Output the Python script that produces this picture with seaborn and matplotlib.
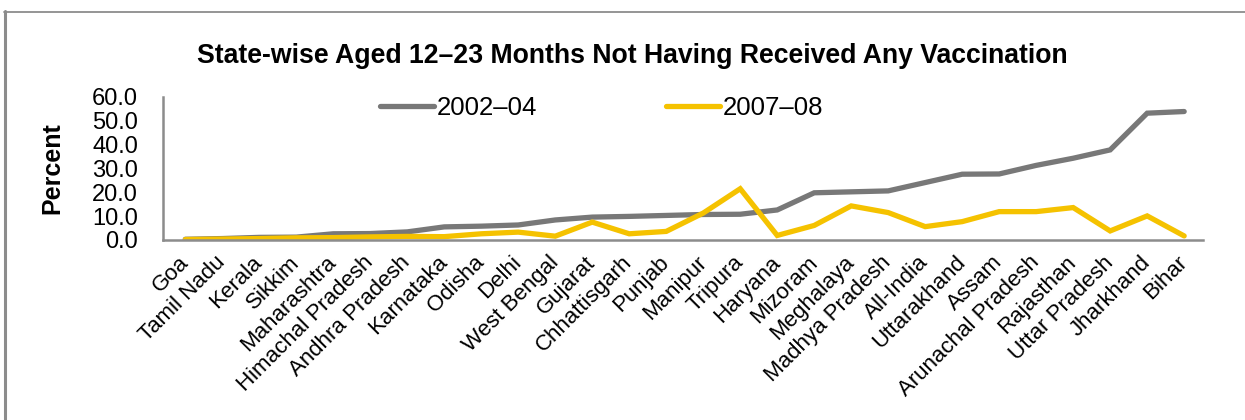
import numpy as np
import pandas as pd
import matplotlib
matplotlib.use("Agg")
import matplotlib.pyplot as plt
from matplotlib.lines import Line2D
import seaborn as sns

states = [
    "Goa", "Tamil Nadu", "Kerala", "Sikkim", "Maharashtra", "Himachal Pradesh",
    "Andhra Pradesh", "Karnataka", "Odisha", "Delhi", "West Bengal", "Gujarat",
    "Chhattisgarh", "Punjab", "Manipur", "Tripura", "Haryana", "Mizoram",
    "Meghalaya", "Madhya Pradesh", "All-India", "Uttarakhand", "Assam",
    "Arunachal Pradesh", "Rajasthan", "Uttar Pradesh", "Jharkhand", "Bihar",
]
pct_2002_04 = [
    0.3, 0.6, 1.1, 1.2, 2.6, 2.7, 3.4, 5.5, 5.8, 6.3, 8.4, 9.6,
    9.9, 10.3, 10.7, 10.8, 12.6, 19.8, 20.2, 20.6, 24.1, 27.6, 27.7,
    31.3, 34.3, 37.8, 53.2, 53.9,
]
pct_2007_08 = [
    0.2, 0.4, 0.6, 0.9, 1.0, 1.3, 1.5, 1.4, 2.6, 3.3, 1.6, 7.5,
    2.6, 3.6, 11.3, 21.5, 1.9, 6.1, 14.3, 11.5, 5.6, 7.7, 11.9,
    11.9, 13.6, 3.8, 10.1, 1.7,
]
series_names = ["2002\u201304", "2007\u201308"]
y_ticks = [0, 10, 20, 30, 40, 50, 60]

pos = np.arange(len(states))
df = pd.concat([
    pd.DataFrame({"pos": pos, "state": states, "value": pct_2002_04, "round": series_names[0]}),
    pd.DataFrame({"pos": pos, "state": states, "value": pct_2007_08, "round": series_names[1]}),
])

sns.set_theme(style="white")
plt.rcParams["font.family"] = ["Liberation Sans", "DejaVu Sans"]
plt.rcParams["text.color"] = "black"
plt.rcParams["xtick.color"] = "black"
plt.rcParams["ytick.color"] = "black"

fig = plt.figure(figsize=(12.45, 4.2), dpi=100)
ax = fig.add_axes([0.131, 0.4286, 0.835, 0.3405])

palette = {series_names[0]: "#787878", series_names[1]: "#F5C200"}
sns.lineplot(data=df, x="pos", y="value", hue="round", palette=palette,
             linewidth=3.8, ax=ax, sort=False, legend=True)
for ln in ax.get_lines():
    ln.set_solid_capstyle("round")
    ln.set_solid_joinstyle("miter")

ax.set_xlim(-0.6, 27.5)
ax.set_ylim(0, 60)
ax.set_yticks(y_ticks)
ax.set_yticklabels([f"{v:.1f}" for v in y_ticks], fontsize=17)
ax.set_xticks(pos)
ax.set_xticklabels(states, rotation=45, ha="right", va="center",
                   rotation_mode="anchor", fontsize=16)
ax.tick_params(axis="both", length=0, labelcolor="black")
ax.tick_params(axis="y", pad=18)
ax.tick_params(axis="x", pad=14)
ax.set_xlabel("")
ax.set_ylabel("")

for side in ["top", "right"]:
    ax.spines[side].set_visible(False)
for side in ["left", "bottom"]:
    ax.spines[side].set_color("#8C8C8C")
    ax.spines[side].set_linewidth(1.8)

leg = ax.legend(loc="center", bbox_to_anchor=(0.422, 0.925), ncol=2,
                frameon=False, fontsize=18.5, handlelength=2.1,
                handletextpad=0.12, columnspacing=5.0, borderpad=0)
for h in leg.get_lines():
    h.set_linewidth(3.8)
    h.set_solid_capstyle("round")
for t in leg.get_texts():
    t.set_color("black")

fig.text(0.508, 0.866, "State-wise Aged 12\u201323 Months Not Having Received Any Vaccination",
         ha="center", va="center", fontsize=19.2, fontweight="bold", color="black")
fig.text(0.042, 0.60, "Percent", rotation=90, ha="center", va="center",
         fontsize=18, fontweight="bold", color="black")

# chart-area border along the left and top edges
fig.add_artist(Line2D([5.5 / 1245, 5.5 / 1245], [0, 1 - 11 / 420],
                      transform=fig.transFigure, color="#8C8C8C", linewidth=2.2))
fig.add_artist(Line2D([4 / 1245, 1], [1 - 11.5 / 420, 1 - 11.5 / 420],
                      transform=fig.transFigure, color="#8C8C8C", linewidth=1.3))

fig.savefig("out.png", dpi=100)
